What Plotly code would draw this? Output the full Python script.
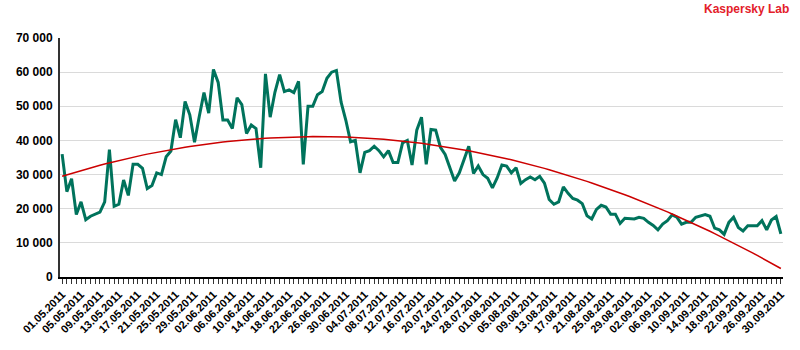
import numpy as np
import pandas as pd
import plotly.graph_objects as go

# Daily counts, 01.05.2011 - 30.09.2011
dates = pd.date_range("2011-05-01", "2011-09-30", freq="D")
counts = [
    36000, 25000, 28800, 18300, 22000, 16800, 17800, 18500, 19000, 22000,
    37300, 20700, 21300, 28400, 23900, 33000, 33000, 31800, 25900, 26800,
    30500, 30000, 35200, 36900, 46100, 40800, 51400, 47500, 39500, 47000,
    54000, 48000, 60800, 57000, 46000, 46000, 43500, 52500, 50500, 42000,
    44500, 43500, 32000, 59500, 46800, 54100, 59300, 54300, 54800, 54000,
    57300, 33000, 50000, 50000, 53400, 54300, 58200, 60000, 60500, 51200,
    45900, 39600, 40000, 30500, 36500, 37000, 38300, 37000, 35200, 37000,
    33500, 33500, 39300, 40000, 32800, 43000, 46800, 33000, 43200, 43000,
    38000, 35900, 31800, 28100, 30500, 34400, 38300, 30300, 32500, 30000,
    28900, 26100, 29000, 32800, 32500, 30500, 32000, 27400, 28500, 29300,
    28500, 29500, 27500, 22700, 21300, 22000, 26400, 24500, 23000, 22500,
    21500, 17900, 17000, 19800, 21000, 20500, 18400, 18400, 15700, 17200,
    17200, 17000, 17500, 17200, 16000, 15100, 13800, 15500, 16500, 18200,
    17500, 15500, 16000, 16000, 17500, 17800, 18300, 17800, 14300, 13800,
    12500, 16000, 17500, 14500, 13500, 15000, 15000, 15000, 16500, 13800,
    16700, 17700, 12600,
]

# Labelled ticks every fourth day
label_dates = dates[::4]
label_text = [d.strftime("%d.%m.%Y") for d in label_dates]

# Second-order polynomial trend through the daily counts
idx = np.arange(len(counts))
trend = np.polyval(np.polyfit(idx, counts, 2), idx)

GREEN = "#00735c"
RED = "#cc0000"
FONT = "Arial, Liberation Sans, sans-serif"

fig = go.Figure()
fig.add_trace(go.Scatter(
    x=dates, y=counts, mode="lines",
    line=dict(color=GREEN, width=3), hoverinfo="x+y",
))
fig.add_trace(go.Scatter(
    x=dates, y=trend, mode="lines",
    line=dict(color=RED, width=1.5), hoverinfo="skip",
))

day = pd.Timedelta(days=1)
fig.update_layout(
    width=800, height=350,
    margin=dict(l=60, r=17, t=38, b=73),
    paper_bgcolor="white", plot_bgcolor="white",
    showlegend=False,
    separators=". ",
    xaxis=dict(
        type="date",
        range=[dates[0] - 0.45 * day, dates[-1] + 0.45 * day],
        tickvals=label_dates, ticktext=label_text,
        tickangle=-45,
        tickfont=dict(family=FONT, size=11, color="black", weight="bold"),
        ticks="outside", ticklen=5, tickcolor="#333333", tickwidth=1,
        minor=dict(dtick=86400000, ticks="outside", ticklen=5,
                   tickcolor="#333333", tickwidth=1, showgrid=False),
        showgrid=False, showline=True, linecolor="black", linewidth=1.5,
        zeroline=False,
    ),
    yaxis=dict(
        range=[0, 70000], dtick=10000, tickformat=",d",
        tickfont=dict(family=FONT, size=12, color="black", weight="bold"),
        showgrid=True, gridcolor="#dadada", gridwidth=1,
        showline=True, linecolor="#333333", linewidth=2,
        zeroline=False, ticks="", ticklabelstandoff=3,
    ),
    annotations=[dict(
        text="Kaspersky Lab", xref="paper", yref="paper",
        x=1.011, y=1.121, xanchor="right", yanchor="middle",
        showarrow=False,
        font=dict(family=FONT, size=12, color="#e3202a", weight="bold"),
    )],
)

fig.write_html("out.html")
